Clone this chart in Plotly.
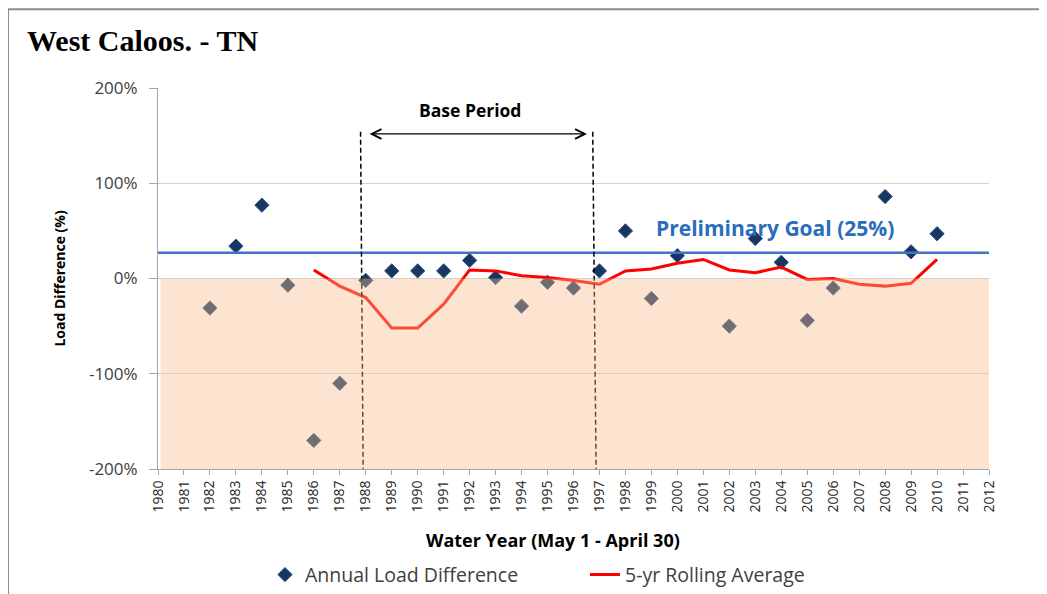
import plotly.graph_objects as go

# ---- data ----
pt_years = [1982, 1983, 1984, 1985, 1986, 1987, 1988, 1989, 1990, 1991, 1992,
            1993, 1994, 1995, 1996, 1997, 1998, 1999, 2000, 2002, 2003, 2004,
            2005, 2006, 2008, 2009, 2010]
annual_diff = [-31, 34, 77, -7, -170, -110, -2, 8, 8, 8, 19,
               1, -29, -4, -10, 8, 50, -21, 24, -50, 42, 17,
               -44, -10, 86, 28, 47]

roll_years = list(range(1986, 2011))
rolling_avg = [9, -8, -20, -52, -52, -27, 9, 8, 3, 1, -2, -6, 8, 10, 16,
               20, 9, 6, 12, -1, 0, -6, -8, -5, 20]

tick_years = list(range(1980, 2013))
y_ticks = [-200, -100, 0, 100, 200]
y_labels = ["-200%", "-100%", "0%", "100%", "200%"]

GOAL = 27            # drawn position of the 25% goal line
BASE_START = 1987.8
BASE_END = 1996.8

FONT = "Open Sans, DejaVu Sans, sans-serif"

fig = go.Figure()

fig.add_trace(go.Scatter(
    x=pt_years, y=annual_diff, mode="markers", name="Annual Load Difference",
    marker=dict(symbol="diamond", size=11, color="#17375E",
                line=dict(color="#2F5597", width=1)),
))
fig.add_trace(go.Scatter(
    x=roll_years, y=rolling_avg, mode="lines", name="5-yr Rolling Average",
    line=dict(color="#FF0000", width=3),
))

# goal line
fig.add_shape(type="line", xref="x", yref="y", x0=1979.88, x1=2012, y0=GOAL, y1=GOAL,
              line=dict(color="#4472C4", width=2.5), layer="above")

# base period dashed lines
for xt, xb in [(BASE_START, BASE_START + 0.1), (BASE_END - 0.06, BASE_END + 0.07)]:
    fig.add_shape(type="line", xref="x", yref="y", x0=xt, x1=xb, y0=154, y1=-200,
                  line=dict(color="black", width=1.5, dash="5px,3px"), layer="above")

# shaded area below zero (semi-transparent, over the markers)
fig.add_shape(type="rect", xref="x", yref="y", x0=1980.1, x1=2012.05, y0=-200, y1=0,
              fillcolor="rgba(247,187,137,0.4)", line=dict(width=0), layer="above")

# frame of the original picture
fig.add_shape(type="line", xref="paper", yref="paper", x0=-0.1805, x1=-0.1805, y0=1.207, y1=-0.35,
              line=dict(color="#8c8c8c", width=2))
fig.add_shape(type="line", xref="paper", yref="paper", x0=-0.1805, x1=1.1, y0=1.207, y1=1.207,
              line=dict(color="#8c8c8c", width=2))

# base period arrow and label
fig.add_annotation(x=1996.52, y=151.8, ax=1988.09, ay=151.8, xref="x", yref="y",
                   axref="x", ayref="y", text="", showarrow=True, arrowside="end+start",
                   arrowhead=5, startarrowhead=5, arrowsize=1.6, startarrowsize=1.6,
                   arrowwidth=1.2, arrowcolor="black")
fig.add_annotation(x=1992, y=177, xref="x", yref="y", text="<b>Base Period</b>",
                   showarrow=False, font=dict(family=FONT, size=17.5, color="black"))
fig.add_annotation(x=2003.76, y=52.5, xref="x", yref="y", text="<b>Preliminary Goal (25%)</b>",
                   showarrow=False, font=dict(family=FONT, size=21, color="#2A6EBB"))

# titles
fig.add_annotation(x=-0.160, y=1.125, xref="paper", yref="paper", xanchor="left", yanchor="middle",
                   text="<b>West Caloos. - TN</b>", showarrow=False,
                   font=dict(family="Liberation Serif, Times New Roman, serif", size=30, color="black"))
fig.add_annotation(x=-0.119, y=0.5, xref="paper", yref="paper", xanchor="center", yanchor="middle",
                   textangle=-90, text="<b>Load Difference (%)</b>", showarrow=False,
                   font=dict(family=FONT, size=14, color="black"))
fig.add_annotation(x=0.475, y=-0.186, xref="paper", yref="paper", xanchor="center", yanchor="middle",
                   text="<b>Water Year (May 1 - April 30)</b>", showarrow=False,
                   font=dict(family=FONT, size=18, color="black"))

fig.update_xaxes(range=[1980, 2012], tickmode="array", tickvals=tick_years,
                 ticktext=[str(y) for y in tick_years], tickangle=-90,
                 tickfont=dict(family=FONT, size=14, color="#262626"),
                 showgrid=False, zeroline=False, showline=True, linecolor="#a6a6a6", linewidth=1,
                 ticks="outside", ticklen=5, tickcolor="#a6a6a6")
fig.update_yaxes(range=[-200, 200], tickmode="array", tickvals=y_ticks, ticktext=y_labels,
                 tickfont=dict(family=FONT, size=17, color="#404040"),
                 showgrid=True, gridcolor="#d4d4d4", gridwidth=1, zeroline=False,
                 showline=True, linecolor="#a6a6a6", linewidth=1,
                 ticks="outside", ticklen=8, tickcolor="#a6a6a6", ticklabelstandoff=8)

# page body adds 8px, so the figure is drawn 8px smaller with shifted margins
fig.update_layout(
    width=1039, height=586,
    margin=dict(l=150, r=58, t=80, b=125, autoexpand=False),
    plot_bgcolor="white", paper_bgcolor="white",
    showlegend=True,
    legend=dict(orientation="h", x=(265 - 158) / 831, xanchor="left", y=-0.278, yanchor="middle",
                entrywidth=275, font=dict(family=FONT, size=19.5, color="#404040")),
)

fig.write_html("out.html")
